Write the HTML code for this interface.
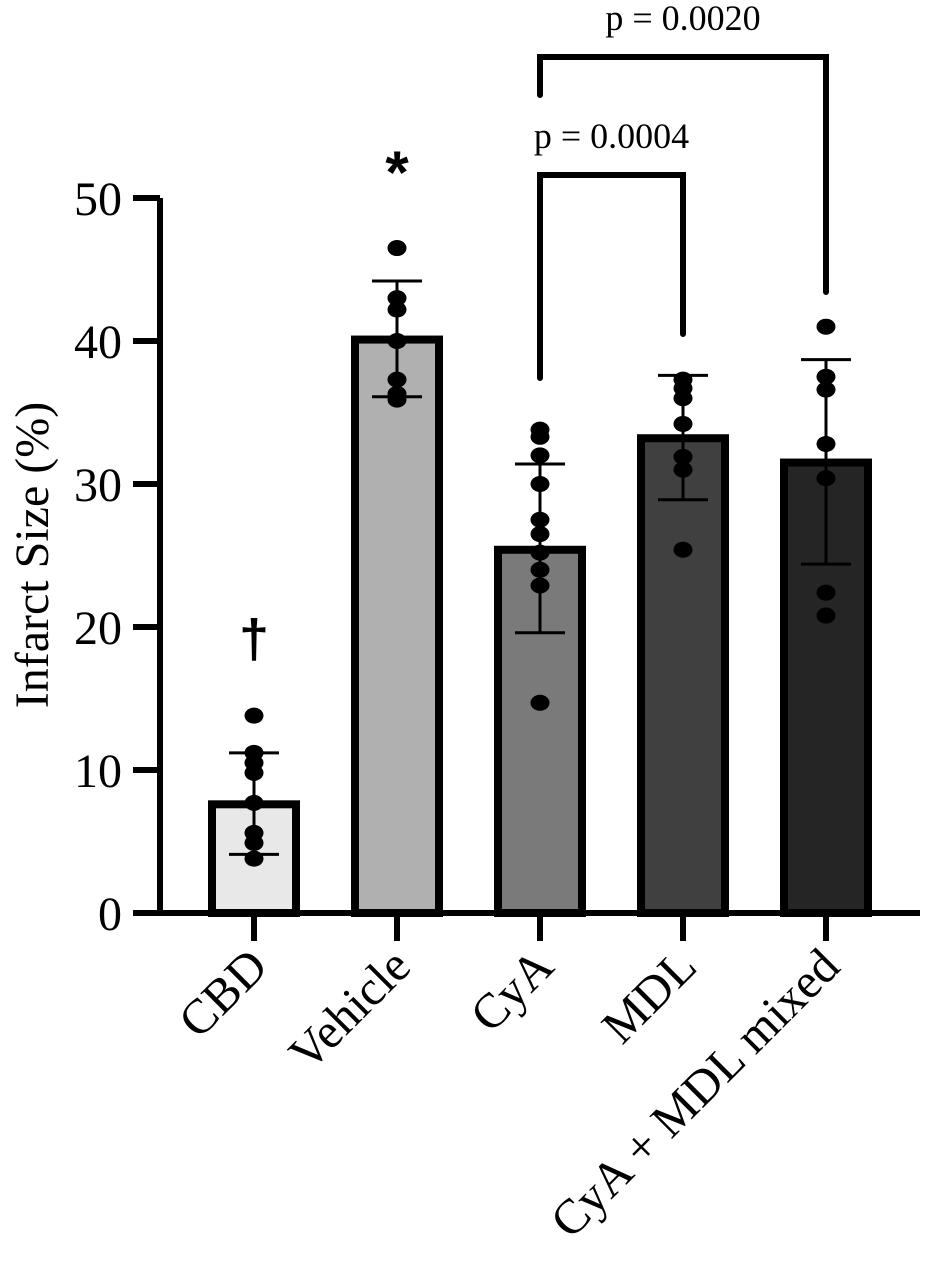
<!DOCTYPE html>
<html><head><meta charset="utf-8"><style>
html,body{margin:0;padding:0;background:#fff;}
svg{display:block;font-family:"Liberation Serif",serif;}
</style></head><body>
<svg id="chart" width="925" height="1268" viewBox="0 0 925 1268" xmlns="http://www.w3.org/2000/svg"></svg>
<script>
const categories = ["CBD","Vehicle","CyA","MDL","CyA + MDL mixed"];
const means = [7.6, 40.1, 25.4, 33.2, 31.5];
const errUpper = [11.2, 44.2, 31.4, 37.6, 38.7];
const errLower = [4.1, 36.1, 19.6, 28.9, 24.4];
const fills = ["#e8e8e8","#b0b0b0","#7a7a7a","#404040","#252525"];
const points = [
  [13.8, 11.2, 10.5, 9.8, 7.7, 5.6, 4.9, 3.8],
  [46.5, 43.0, 42.2, 40.0, 37.3, 36.3, 35.9],
  [33.8, 33.3, 32.0, 30.0, 27.5, 26.5, 25.2, 24.0, 22.9, 14.7],
  [37.3, 36.7, 36.0, 34.2, 31.9, 31.0, 25.4],
  [41.0, 37.5, 36.6, 32.8, 30.4, 22.4, 20.8]
];
const yTicks = [0,10,20,30,40,50];
const marks = ["†","*","","",""];

const NS="http://www.w3.org/2000/svg";
const svg=document.getElementById('chart');
const y0=913, y50=198, yMax=50;
const yS=v=>y0-(y0-y50)*v/yMax;
const x0=254, step=143;
const xS=i=>x0+i*step;
const barW=84;
function el(t,a,parent){const e=document.createElementNS(NS,t);for(const k in a)e.setAttribute(k,a[k]);(parent||svg).appendChild(e);return e;}

categories.forEach((c,i)=>{
  const g=el('g',{});
  
  
  el('rect',{x:xS(i)-barW/2,y:yS(means[i]),width:barW,height:y0-yS(means[i]),fill:fills[i],stroke:'#000','stroke-width':8},g);
  const e=el('g',{stroke:'#000','stroke-width':3},g);
  
  
  el('line',{x1:xS(i),x2:xS(i),y1:yS(errUpper[i]),y2:yS(errLower[i])},e);
  el('line',{x1:xS(i)-25,x2:xS(i)+25,y1:yS(errUpper[i]),y2:yS(errUpper[i])},e);
  el('line',{x1:xS(i)-25,x2:xS(i)+25,y1:yS(errLower[i]),y2:yS(errLower[i])},e);
  points[i].forEach(v=>{
    const p=el('ellipse',{cx:xS(i),cy:yS(v),rx:9.5,ry:8,fill:'#000'},g);
    
    
  });
  el('line',{x1:xS(i),x2:xS(i),y1:y0,y2:y0+28,stroke:'#000','stroke-width':6});
  const t=el('text',{x:0,y:0,'font-size':49,'text-anchor':'end',transform:`translate(${xS(i)+16},${y0+56}) rotate(-45)`});
  t.textContent=c;
  
  
  if(marks[i]){
    const m=el('text',{x:xS(i),y:marks[i]==='*'?yS(errUpper[i])-88:yS(errUpper[i])-96,'font-size':marks[i]==='*'?60:54,'font-weight':'bold','text-anchor':'middle','font-family':'"Liberation Sans",sans-serif'});
    m.textContent=marks[i];
    
    
  }
});
const ax=el('path',{d:`M160 ${y50} V${y0} H920`,fill:'none',stroke:'#000','stroke-width':6});


yTicks.forEach(v=>{
  el('line',{x1:133,x2:160,y1:yS(v),y2:yS(v),stroke:'#000','stroke-width':6});
  const t=el('text',{x:122,y:yS(v)+17,'font-size':48,'text-anchor':'end'});
  t.textContent=v;
  
  
});
const yt=el('text',{x:0,y:0,'font-size':48,'text-anchor':'middle',transform:'translate(48,555) rotate(-90)'});
yt.textContent='Infarct Size (%)';


const b1=el('path',{d:`M${xS(2)} 378 V175 H${xS(3)} V334`,fill:'none',stroke:'#000','stroke-width':6,'stroke-linecap':'round'});


const b2=el('path',{d:`M${xS(2)} 95 V57 H${xS(4)} V292`,fill:'none',stroke:'#000','stroke-width':6,'stroke-linecap':'round'});


const p1=el('text',{x:(xS(2)+xS(3))/2,y:148,'font-size':36,'text-anchor':'middle'});
p1.textContent='p = 0.0004';


const p2=el('text',{x:(xS(2)+xS(4))/2,y:30,'font-size':36,'text-anchor':'middle'});
p2.textContent='p = 0.0020';


</script>
</body></html>
